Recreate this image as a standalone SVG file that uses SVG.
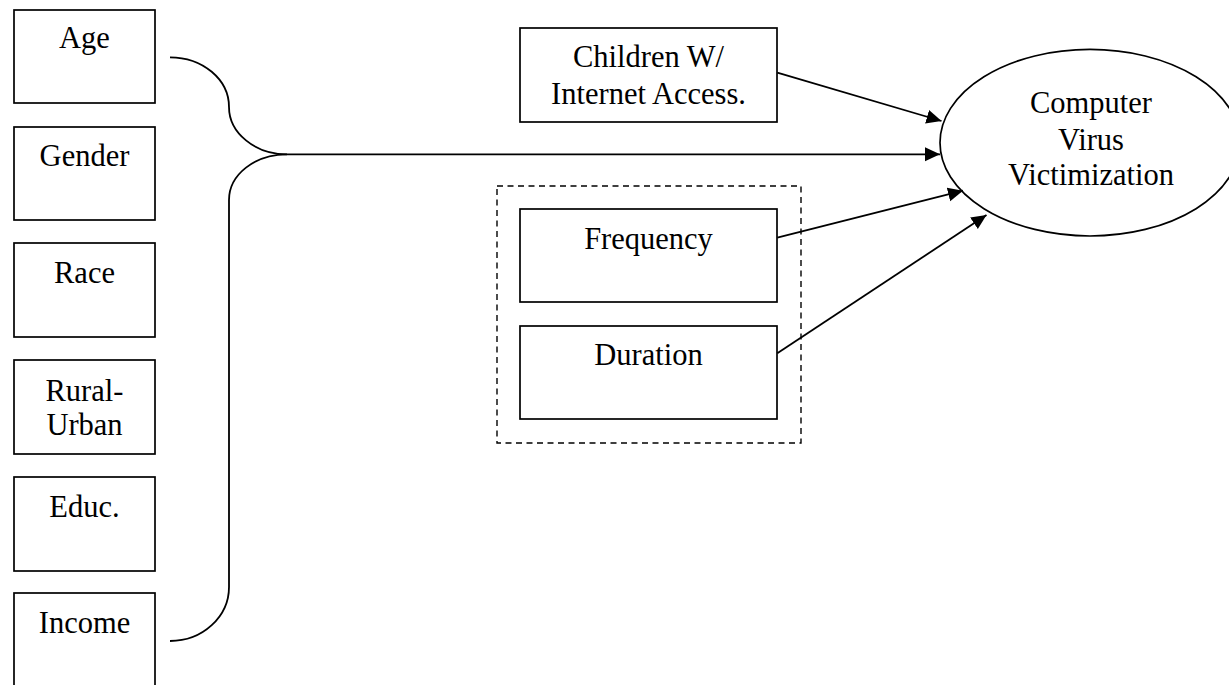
<svg xmlns="http://www.w3.org/2000/svg" width="1229" height="685" viewBox="0 0 1229 685">
  <style>
    .box { fill: #ffffff; stroke: #000000; stroke-width: 1.7; }
    .group { fill: none; stroke: #000000; stroke-width: 1.4; stroke-dasharray: 6 4.5; }
    .lbl { font-family: "Liberation Serif", "Times New Roman", serif; font-size: 30.5px; fill: #000000; text-anchor: middle; }
    .wire { fill: none; stroke: #000000; stroke-width: 1.8; }
  </style>
  <defs>
    <marker id="arrow" markerUnits="userSpaceOnUse" markerWidth="17" markerHeight="15" refX="15" refY="7" orient="auto">
      <path d="M0,0 L15,7 L0,14 Z" fill="#000000"/>
    </marker>
  </defs>
  <rect width="1229" height="685" fill="#ffffff"/>

  <!-- demographic predictors -->
  <g id="age">
    <rect class="box" x="14" y="10" width="141" height="93"/>
    <text class="lbl" x="84.5" y="48">Age</text>
  </g>
  <g id="gender">
    <rect class="box" x="14" y="127" width="141" height="93"/>
    <text class="lbl" x="84.5" y="166">Gender</text>
  </g>
  <g id="race">
    <rect class="box" x="14" y="243" width="141" height="94"/>
    <text class="lbl" x="84.5" y="283">Race</text>
  </g>
  <g id="rural-urban">
    <rect class="box" x="14" y="360" width="141" height="94"/>
    <text class="lbl" x="84.5" y="401">Rural-</text>
    <text class="lbl" x="84.5" y="435">Urban</text>
  </g>
  <g id="educ">
    <rect class="box" x="14" y="477" width="141" height="94"/>
    <text class="lbl" x="84.5" y="517">Educ.</text>
  </g>
  <g id="income">
    <rect class="box" x="14" y="593" width="141" height="94"/>
    <text class="lbl" x="84.5" y="633">Income</text>
  </g>

  <!-- internet use predictors -->
  <g id="children">
    <rect class="box" x="520" y="28" width="257" height="94"/>
    <text class="lbl" x="648.5" y="67">Children W/</text>
    <text class="lbl" x="648.5" y="103.5">Internet Access.</text>
  </g>
  <g id="usage-group">
    <rect class="group" x="497" y="186" width="304" height="257"/>
  </g>
  <g id="frequency">
    <rect class="box" x="520" y="209" width="257" height="93"/>
    <text class="lbl" x="648.5" y="248.5">Frequency</text>
  </g>
  <g id="duration">
    <rect class="box" x="520" y="326" width="257" height="93"/>
    <text class="lbl" x="648.5" y="365">Duration</text>
  </g>

  <!-- outcome -->
  <g id="victimization">
    <ellipse class="box" cx="1090" cy="142.7" rx="150" ry="93.3"/>
    <text class="lbl" x="1091" y="113">Computer</text>
    <text class="lbl" x="1091" y="149.5">Virus</text>
    <text class="lbl" x="1091" y="184.5">Victimization</text>
  </g>

  <!-- connectors -->
  <g id="connectors">
    <path class="wire" d="M170,57.3 C202.6,57.3 229,79.4 229,107 C229,133 255,154.3 287,154.3"/>
    <path class="wire" d="M287,154.3 C255,154.3 229,174.6 229,200 L229,587 C229,616.8 202.6,641 170,641"/>
    <path class="wire" d="M287,154.3 L940,154.3" marker-end="url(#arrow)"/>
    <path class="wire" d="M777.3,72.7 L941.5,121" marker-end="url(#arrow)"/>
    <path class="wire" d="M777.3,237.7 L963,190.7" marker-end="url(#arrow)"/>
    <path class="wire" d="M777.3,353.3 L986.5,215" marker-end="url(#arrow)"/>
  </g>
</svg>
